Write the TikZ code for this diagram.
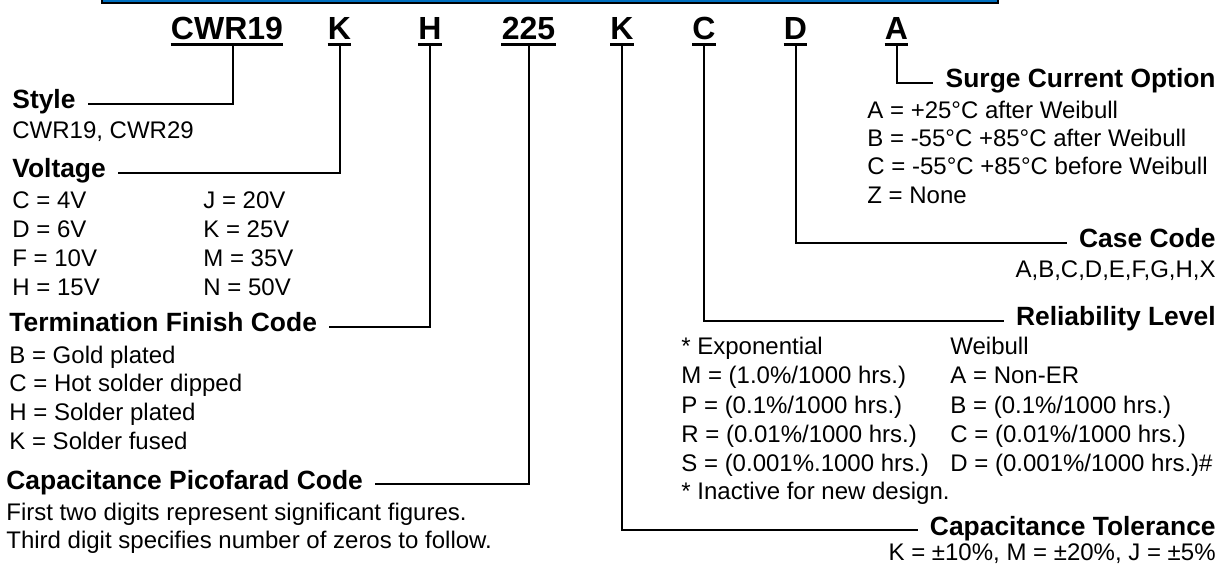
\documentclass[tikz,border=0pt]{standalone}
\usepackage{fontspec}
\setmainfont{Liberation Sans}
\definecolor{barblue}{RGB}{0,112,192}
\begin{document}
\begin{tikzpicture}[x=0.5pt,y=0.5pt]
  \tikzstyle{every node}+=[inner sep=0pt]
  \tikzstyle{codeletter}=[anchor=base,inner ysep=2pt,font=\fontsize{16}{19}\selectfont\bfseries]
  \tikzstyle{heading}=[anchor=base west,font=\fontsize{13.2}{16}\selectfont\bfseries]
  \tikzstyle{headingr}=[heading,anchor=base east]
  \tikzstyle{body}=[anchor=base west,font=\fontsize{12}{14}\selectfont]
  \tikzstyle{bodyr}=[body,anchor=base east]
  \tikzstyle{leader}=[black,line width=1pt]
  \tikzstyle{uline}=[black,line width=1.3pt]
  \clip (0,0) rectangle (1225,-571);
  % title bar, cut at the top
  \draw [black,line width=1pt,fill=barblue] (102,20) rectangle (998,-3);
  % part number
  \draw (227,-40) node [codeletter] (cwr) {CWR19};
  \draw (339.5,-40) node [codeletter] (kvolt) {K};
  \draw (430,-40) node [codeletter] (hterm) {H};
  \draw (528.5,-40) node [codeletter] (pf) {225};
  \draw (622,-40) node [codeletter] (ktol) {K};
  \draw (704,-40) node [codeletter] (crel) {C};
  \draw (795.5,-40) node [codeletter] (dcase) {D};
  \draw (896.5,-40) node [codeletter] (asurge) {A};
  \draw [uline] (cwr.south west) -- (cwr.south east);
  \draw [uline] (kvolt.south west) -- (kvolt.south east);
  \draw [uline] (hterm.south west) -- (hterm.south east);
  \draw [uline] (pf.south west) -- (pf.south east);
  \draw [uline] (ktol.south west) -- (ktol.south east);
  \draw [uline] (crel.south west) -- (crel.south east);
  \draw [uline] (dcase.south west) -- (dcase.south east);
  \draw [uline] (asurge.south west) -- (asurge.south east);
  % left side
  \draw (12,-109) node [heading] (stylehd) {Style};
  \draw (12,-138.5) node [body] (style1) {CWR19, CWR29};
  \draw (12,-178) node [heading] (volthd) {Voltage};
  \draw (12,-209) node [body] (volt1) {C = 4V};
  \draw (12,-238) node [body] (volt2) {D = 6V};
  \draw (12,-266.5) node [body] (volt3) {F = 10V};
  \draw (12,-295.5) node [body] (volt4) {H = 15V};
  \draw (203,-209) node [body] (volt5) {J = 20V};
  \draw (203,-238) node [body] (volt6) {K = 25V};
  \draw (203,-266.5) node [body] (volt7) {M = 35V};
  \draw (203,-295.5) node [body] (volt8) {N = 50V};
  \draw (9,-332) node [heading] (termhd) {Termination Finish Code};
  \draw (9,-363.5) node [body] (term1) {B = Gold plated};
  \draw (9,-392) node [body] (term2) {C = Hot solder dipped};
  \draw (9,-420.5) node [body] (term3) {H = Solder plated};
  \draw (9,-449.5) node [body] (term4) {K = Solder fused};
  \draw (6,-489) node [heading] (pfhd) {Capacitance Picofarad Code};
  \draw (6,-520) node [body] (pf1) {First two digits represent significant figures.};
  \draw (6,-548.5) node [body] (pf2) {Third digit specifies number of zeros to follow.};
  % right side
  \draw (1216,-88) node [headingr] (surgehd) {Surge Current Option};
  \draw (867,-118.5) node [body] (surge1) {A = +25°C after Weibull};
  \draw (867,-147) node [body] (surge2) {B = -55°C +85°C after Weibull};
  \draw (867,-175) node [body] (surge3) {C = -55°C +85°C before Weibull};
  \draw (867,-203.5) node [body] (surge4) {Z = None};
  \draw (1216,-248) node [headingr] (casehd) {Case Code};
  \draw (1216,-278) node [bodyr] (case1) {A,B,C,D,E,F,G,H,X};
  \draw (1216,-326) node [headingr] (relhd) {Reliability Level};
  \draw (681,-355) node [body] (rel1) {* Exponential};
  \draw (681,-384) node [body] (rel2) {M = (1.0\%/1000 hrs.)};
  \draw (681,-413) node [body] (rel3) {P = (0.1\%/1000 hrs.)};
  \draw (681,-442) node [body] (rel4) {R = (0.01\%/1000 hrs.)};
  \draw (681,-471) node [body] (rel5) {S = (0.001\%.1000 hrs.)};
  \draw (681,-499.5) node [body] (rel6) {* Inactive for new design.};
  \draw (950,-355) node [body] (rel7) {Weibull};
  \draw (950,-384) node [body] (rel8) {A = Non-ER};
  \draw (950,-413) node [body] (rel9) {B = (0.1\%/1000 hrs.)};
  \draw (950,-442) node [body] (rel10) {C = (0.01\%/1000 hrs.)};
  \draw (950,-471) node [body] (rel11) {D = (0.001\%/1000 hrs.)\#};
  \draw (1216,-535) node [headingr] (tolhd) {Capacitance Tolerance};
  \draw (1216,-560) node [bodyr] (tol1) {K = ±10\%, M = ±20\%, J = ±5\%};
  % leaders
  \draw [leader] ([xshift=3pt]cwr.south) |- ([xshift=6pt,yshift=2.5pt]stylehd.base east);
  \draw [leader] (kvolt.south) |- ([xshift=6pt,yshift=2.5pt]volthd.base east);
  \draw [leader] (hterm.south) |- ([xshift=6pt,yshift=2.5pt]termhd.base east);
  \draw [leader] (pf.south) |- ([xshift=6pt,yshift=2.5pt]pfhd.base east);
  \draw [leader] (ktol.south) |- ([xshift=-6pt,yshift=2.5pt]tolhd.base west);
  \draw [leader] (crel.south) |- ([xshift=-6pt,yshift=2.5pt]relhd.base west);
  \draw [leader] (dcase.south) |- ([xshift=-6pt,yshift=2.5pt]casehd.base west);
  \draw [leader] (asurge.south) |- ([xshift=-6pt,yshift=2.5pt]surgehd.base west);
\end{tikzpicture}
\end{document}
